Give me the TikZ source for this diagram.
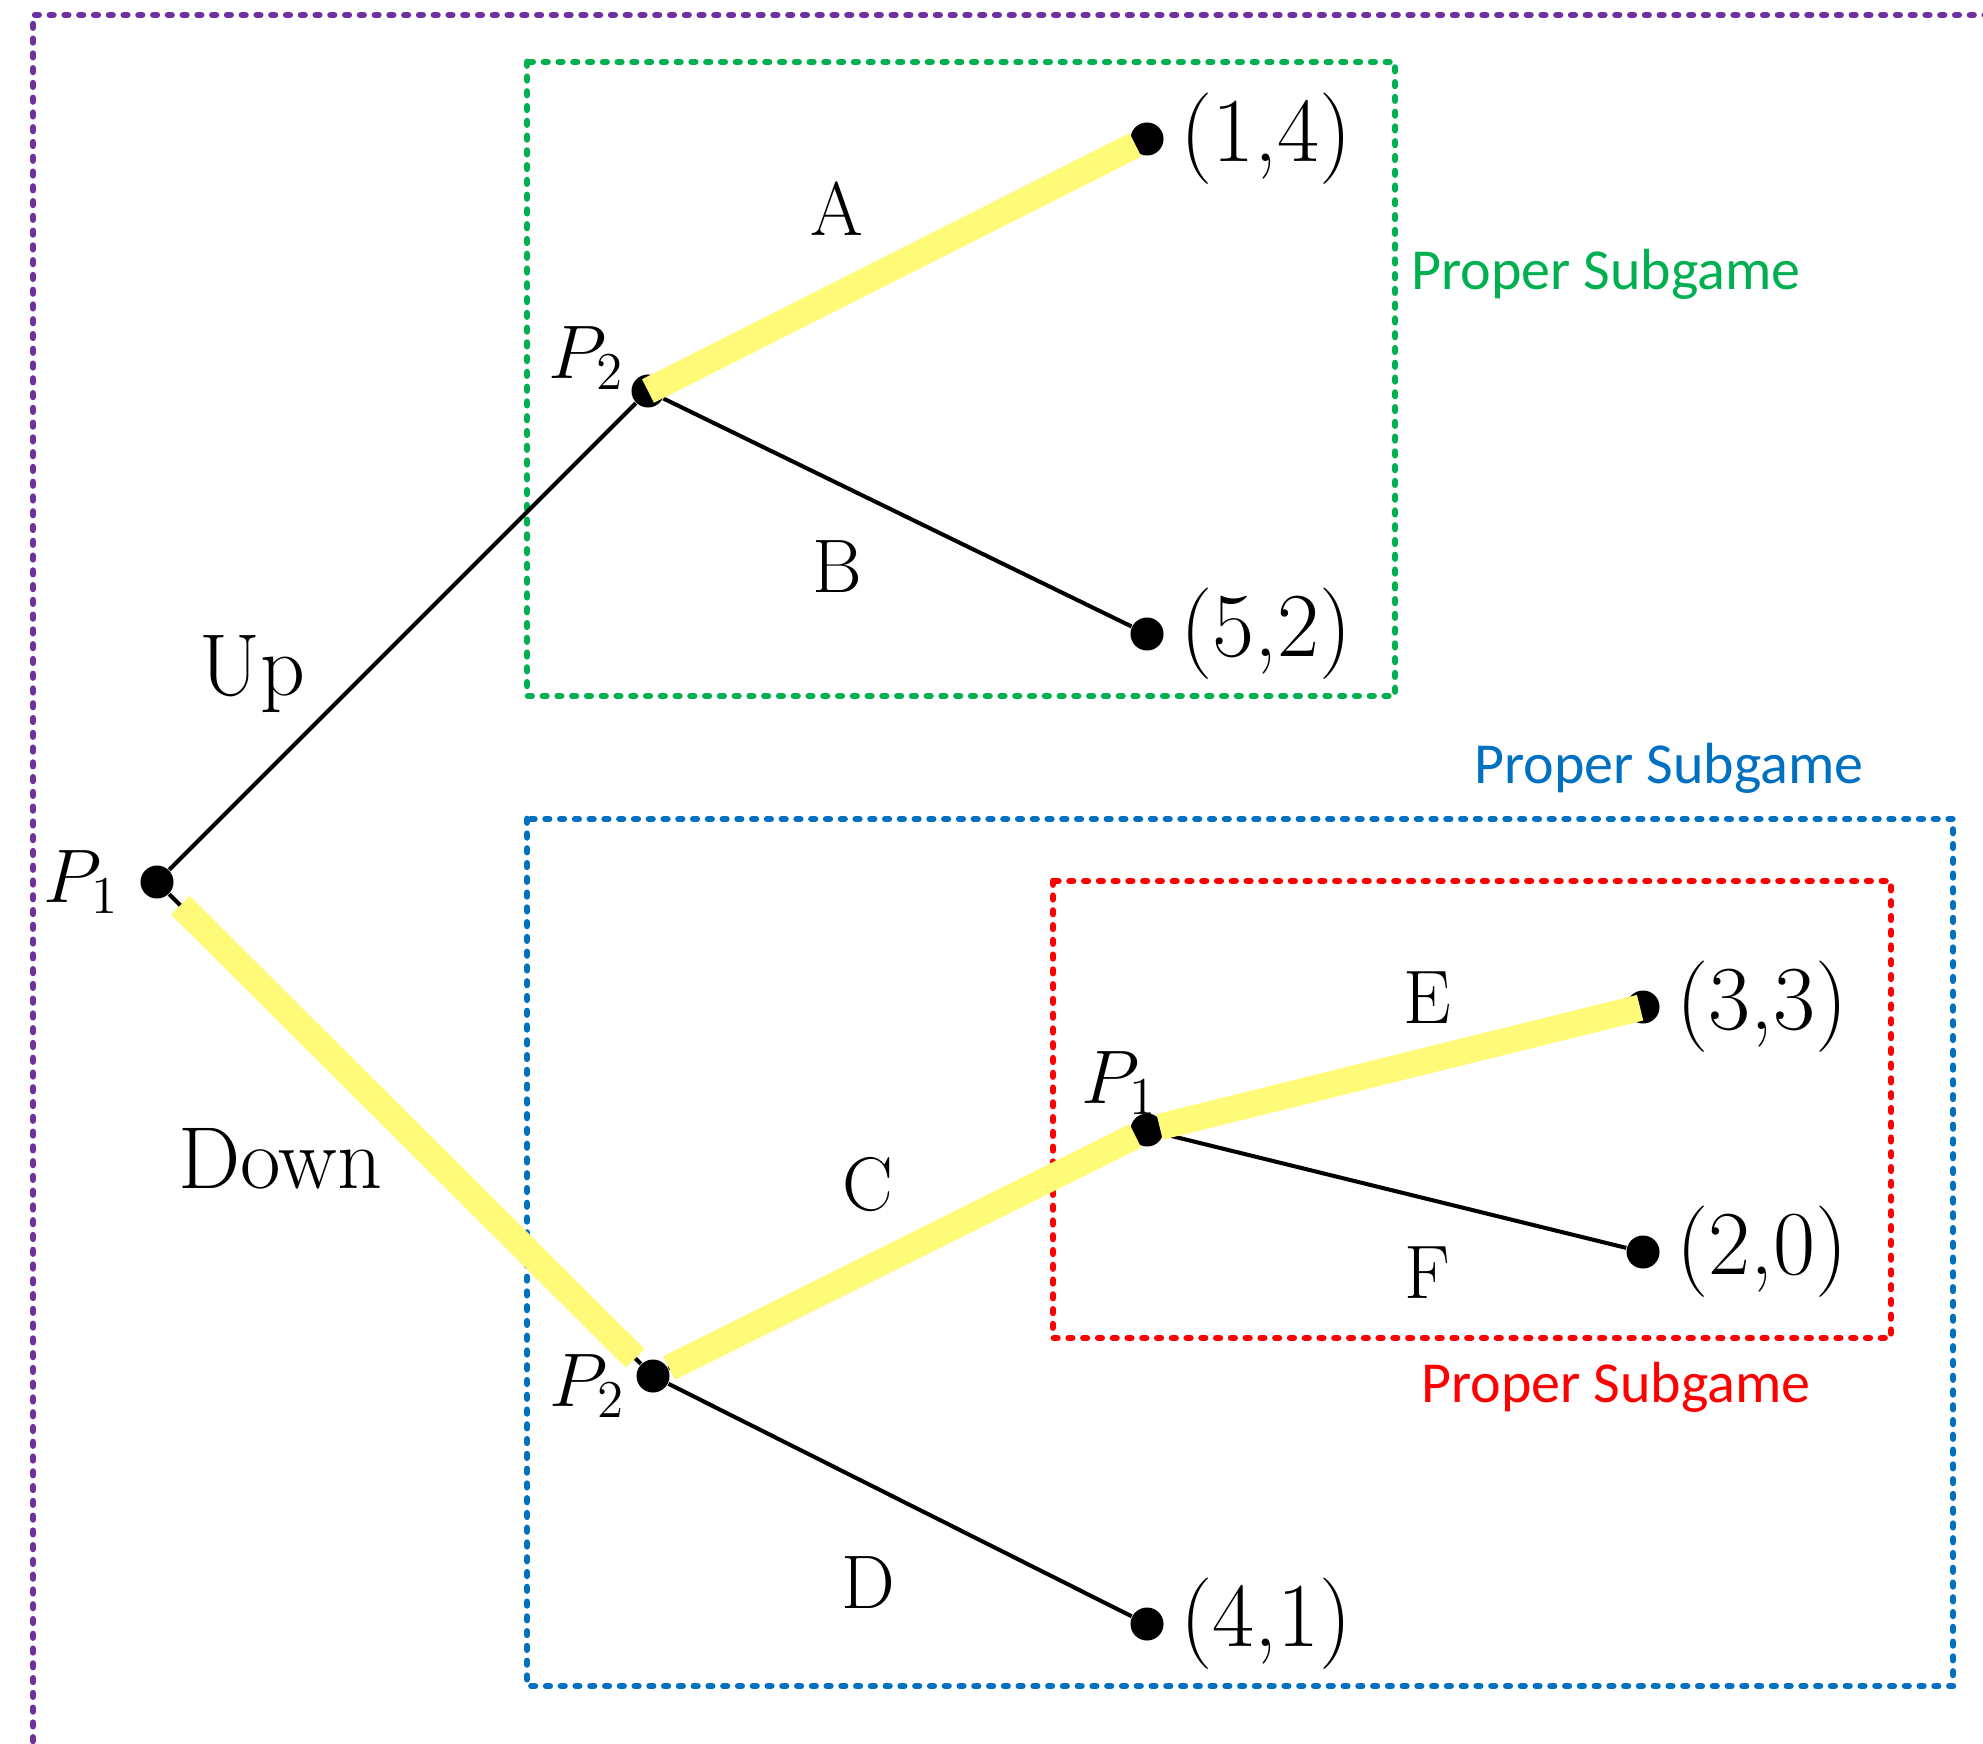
\RequirePackage{fix-cm}
\documentclass[tikz,border=0pt]{standalone}
\usepackage{fontspec}
\newfontfamily\calibfont{Carlito}
\usetikzlibrary{positioning}
\definecolor{hlyellow}{RGB}{255,250,120}
\definecolor{sgpurple}{RGB}{112,48,160}
\definecolor{sggreen}{RGB}{0,176,80}
\definecolor{sgblue}{RGB}{0,112,192}
\definecolor{sgred}{RGB}{255,0,0}

\begin{document}
\begin{tikzpicture}[x=0.01cm, y=-0.01cm,
  dot/.style={circle, fill=black, inner sep=0pt, minimum size=3.3mm},
  move/.style={line width=1.15pt},
  best/.style={line width=7.5pt, draw=hlyellow},
  txt/.style={inner sep=1pt, font=\fontsize{21.6}{26}\selectfont},
  pay/.style={inner sep=1pt, font=\fontsize{26}{31}\selectfont},
  big/.style={inner sep=1pt, font=\fontsize{25}{30}\selectfont},
  frame/.style={line width=1.9pt, dash pattern=on 1pt off 3.2pt, line cap=round},
  tag/.style={inner sep=1pt, font=\calibfont\fontsize{16.5}{20}\selectfont}]
  \clip (0,0) rectangle (1983,1743);
  % subgame frames
  \draw[frame, sgpurple] (33,1800) -- (33,15) -- (2050,15);
  \draw[frame, sggreen] (527,62) rectangle (1395,696);
  \draw[frame, sgblue] (527,819) rectangle (1953,1686);
  \draw[frame, sgred] (1053,881) rectangle (1891,1338);
  % decision and terminal nodes
  \node[dot] (r) at (157,882) {};
  \node[dot] (u) at (648,391) {};
  \node[dot] (d) at (653,1376) {};
  \node[dot] (m) at (1147,1130) {};
  \node[dot] (t14) at (1147,139) {};
  \node[dot] (t52) at (1147,634) {};
  \node[dot] (t33) at (1643,1007) {};
  \node[dot] (t20) at (1643,1252) {};
  \node[dot] (t41) at (1147,1624) {};
  \draw[move] (r) -- (u) (r) -- (d) (u) -- (t14) (u) -- (t52)
    (d) -- (m) (d) -- (t41) (m) -- (t33) (m) -- (t20);
  % equilibrium path
  \draw[best, shorten <=3.3mm, shorten >=2.5mm] (r.center) -- (d.center);
  \draw[best, shorten >=1.3mm] (u.center) -- (t14.center);
  \draw[best, shorten <=1.8mm, shorten >=1.3mm] (d.center) -- (m.center);
  \draw[best, shorten <=1.3mm, shorten >=0.3mm] (m.center) -- (t33.center);
  % payoffs
  \node[pay, right=1.2mm of t14] (p14) {(1,4)};
  \node[pay, right=1.2mm of t52] (p52) {(5,2)};
  \node[pay, right=1.2mm of t33] (p33) {(3,3)};
  \node[pay, right=1.2mm of t20] (p20) {(2,0)};
  \node[pay, right=1.2mm of t41] (p41) {(4,1)};
  % players
  \node[txt, left=1.6mm of r] (n1) {$P_1$};
  \node[txt, left=0.2mm of u, yshift=3.3mm] (n2) {$P_2$};
  \node[txt, left=0.6mm of d, yshift=-1mm] (n3) {$P_2$};
  \node[txt, above=-0.6mm of m, xshift=-2.8mm] (n4) {$P_1$};
  % actions
  \node[big] (lup) at (252,674) {Up};
  \node[big] (ldown) at (280,1159) {Down};
  \node[txt] (la) at (837,209) {A};
  \node[txt] (lb) at (837,567) {B};
  \node[txt] (lc) at (868,1185) {C};
  \node[txt] (ld) at (868,1583) {D};
  \node[txt] (le) at (1427,998) {E};
  \node[txt] (lf) at (1427,1273) {F};
  % subgame tags
  \node[tag, sggreen] (g1) at (1606,274) {Proper Subgame};
  \node[tag, sgblue] (g2) at (1669,768) {Proper Subgame};
  \node[tag, sgred] (g3) at (1616,1387) {Proper Subgame};
\end{tikzpicture}
\end{document}
